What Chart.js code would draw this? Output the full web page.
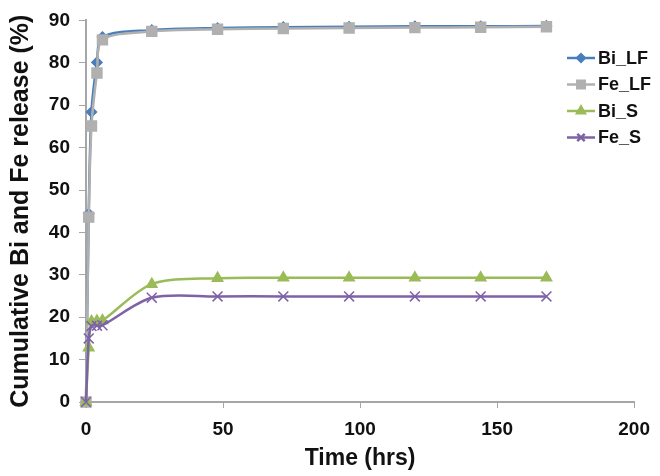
<!DOCTYPE html>
<html lang="en">
<head>
    <meta charset="UTF-8">
    <title>Bi and Fe release</title>
    <script src="https://cdn.jsdelivr.net/npm/chart.js"></script>
    <style>
        html, body { margin: 0; padding: 0; background: #fff; }
        #wrap { width: 660px; height: 476px; }
    </style>
</head>
<body>
    <div id="wrap"><canvas id="releaseChart" width="660" height="476"></canvas></div>
    <script>
    // sampling times (hrs)
    const times = [0, 1, 2, 4, 6, 24, 48, 72, 96, 120, 144, 168];

    // cumulative release (%)
    const biLF = [0, 44.4, 68.4, 80.1, 86.1, 87.7, 88.2, 88.4, 88.5, 88.6, 88.6, 88.7];
    const feLF = [0, 43.6, 65.1, 77.6, 85.4, 87.4, 87.9, 88.1, 88.2, 88.3, 88.4, 88.5];
    const biS  = [0, 12.8, 19.0, 19.1, 19.2, 27.8, 29.2, 29.3, 29.3, 29.3, 29.3, 29.3];
    const feS  = [0, 15.0, 17.9, 18.0, 18.1, 24.6, 24.9, 24.9, 24.9, 24.9, 24.9, 24.9];

    const xTicks = [0, 50, 100, 150, 200];
    const yTicks = [0, 10, 20, 30, 40, 50, 60, 70, 80, 90];

    const FONT = '"Liberation Sans", Arial, sans-serif';
    const AXIS = '#a6a6a6';

    function pts(vals) {
        return vals.map((v, i) => ({ x: times[i], y: v }));
    }

    const series = [
        { label: 'Bi_LF', data: biLF, color: '#4a7ebb', style: 'rectRot', r: 5, order: 4 },
        { label: 'Fe_LF', data: feLF, color: '#b0b0b0', style: 'rect', r: 7, order: 3 },
        { label: 'Bi_S',  data: biS,  color: '#9bbb59', style: 'triangle', r: 6, order: 2 },
        { label: 'Fe_S',  data: feS,  color: '#7f62a6', style: 'crossRot', r: 7, order: 1 }
    ];

    // legend drawn over the plot, like the original
    const sideLegend = {
        id: 'sideLegend',
        afterDraw(chart) {
            const ctx = chart.ctx;
            ctx.save();
            series.forEach((s, i) => {
                const y = 58 + i * 26.5;
                ctx.strokeStyle = s.color;
                ctx.lineWidth = 2.5;
                ctx.beginPath();
                ctx.moveTo(567, y);
                ctx.lineTo(595, y);
                ctx.stroke();
                ctx.fillStyle = s.color;
                ctx.strokeStyle = s.color;
                Chart.helpers.drawPoint(ctx, {
                    pointStyle: s.style, radius: s.r * 0.75, rotation: 0, borderWidth: 1.5
                }, 581, y);
                ctx.fillStyle = '#111';
                ctx.font = 'bold 18px ' + FONT;
                ctx.textBaseline = 'middle';
                ctx.textAlign = 'left';
                ctx.fillText(s.label, 598, y + 1);
            });
            ctx.restore();
        }
    };

    const ctx = document.getElementById('releaseChart').getContext('2d');
    new Chart(ctx, {
        type: 'line',
        data: {
            datasets: series.map(s => ({
                label: s.label,
                data: pts(s.data),
                borderColor: s.color,
                backgroundColor: s.color,
                borderWidth: 2.5,
                pointStyle: s.style,
                pointRadius: s.r,
                pointBorderWidth: 1.5,
                pointBorderColor: s.color,
                pointBackgroundColor: s.color,
                tension: 0.3,
                clip: false,
                order: s.order
            }))
        },
        options: {
            responsive: false,
            animation: false,
            layout: { padding: { top: 17, right: 25, left: 0, bottom: 0 } },
            plugins: {
                legend: { display: false },
                tooltip: { enabled: false }
            },
            scales: {
                x: {
                    type: 'linear',
                    min: 0,
                    max: 200,
                    afterBuildTicks: axis => { axis.ticks = xTicks.map(v => ({ value: v })); },
                    afterFit: axis => { axis.height = 74; },
                    grid: { drawOnChartArea: false, drawTicks: true, tickLength: 6, color: AXIS },
                    border: { color: AXIS, width: 2 },
                    ticks: { color: '#111', padding: 10, font: { family: FONT, size: 19, weight: 'bold' } },
                    title: {
                        display: true,
                        text: 'Time (hrs)',
                        color: '#111',
                        padding: { top: 0, bottom: 4 },
                        font: { family: FONT, size: 23, weight: 'bold' }
                    }
                },
                y: {
                    min: 0,
                    max: 90,
                    afterBuildTicks: axis => { axis.ticks = yTicks.map(v => ({ value: v })); },
                    afterFit: axis => { axis.width = 86; },
                    grid: { drawOnChartArea: false, drawTicks: true, tickLength: 7, color: AXIS },
                    border: { color: AXIS, width: 2 },
                    ticks: { color: '#111', padding: 9, font: { family: FONT, size: 19, weight: 'bold' } },
                    title: {
                        display: true,
                        text: 'Cumulative Bi and Fe release (%)',
                        color: '#111',
                        padding: { top: 6, bottom: 0 },
                        font: { family: FONT, size: 25, weight: 'bold' }
                    }
                }
            }
        },
        plugins: [sideLegend]
    });
    </script>
</body>
</html>
